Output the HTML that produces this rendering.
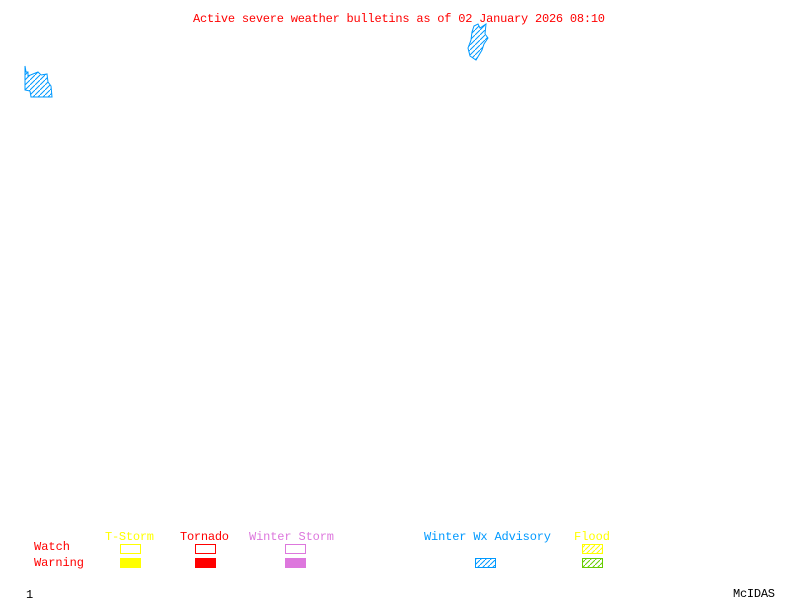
<!DOCTYPE html>
<html><head><style>body{margin:0;background:#fff}svg{display:block}text{font-family:"Liberation Mono",monospace;font-size:12px}</style></head><body>
<svg width="800" height="600" xmlns="http://www.w3.org/2000/svg">
<defs>
<pattern id="hb" width="5" height="5" patternUnits="userSpaceOnUse"><path d="M0,5 L5,0" stroke="#0099ff" stroke-width="1"/></pattern>
<pattern id="hy" width="5" height="5" patternUnits="userSpaceOnUse"><path d="M0,5 L5,0" stroke="#ffff00" stroke-width="1"/></pattern>
<pattern id="hg" width="5" height="5" patternUnits="userSpaceOnUse"><path d="M0,5 L5,0" stroke="#66cc00" stroke-width="1"/></pattern>
</defs>
<text x="193" y="22" fill="#ff0000" textLength="412">Active severe weather bulletins as of 02 January 2026 08:10</text>
<path d="M25,66 L26,72 L28,72 L28,76 L38,72 L41,75 L47,74 L48,82 L51,86 L52,97 L31,97 L30,91 L25,90 Z" fill="url(#hb)" stroke="#0099ff" stroke-width="1"/>
<path d="M474,26 L478,24 L480,28 L486,24 L485,34 L488,38 L484,44 L482,50 L476,60 L470,56 L468,48 L471,40 L472,32 Z" fill="url(#hb)" stroke="#0099ff" stroke-width="1"/>
<text x="105" y="540" fill="#ffff00" textLength="49">T-Storm</text>
<text x="180" y="540" fill="#ff0000" textLength="49">Tornado</text>
<text x="249" y="540" fill="#dd77dd" textLength="85">Winter Storm</text>
<text x="424" y="540" fill="#0099ff" textLength="127">Winter Wx Advisory</text>
<text x="574" y="540" fill="#ffff00" textLength="36">Flood</text>
<text x="34" y="550" fill="#ff0000" textLength="36">Watch</text>
<text x="34" y="566" fill="#ff0000" textLength="50">Warning</text>
<rect x="120.5" y="544.5" width="20" height="9" fill="none" stroke="#ffff00"/>
<rect x="120" y="558" width="21" height="10" fill="#ffff00"/>
<rect x="195.5" y="544.5" width="20" height="9" fill="none" stroke="#ff0000"/>
<rect x="195" y="558" width="21" height="10" fill="#ff0000"/>
<rect x="285.5" y="544.5" width="20" height="9" fill="none" stroke="#dd77dd"/>
<rect x="285" y="558" width="21" height="10" fill="#dd77dd"/>
<rect x="475.5" y="558.5" width="20" height="9" fill="url(#hb)" stroke="#0099ff"/>
<rect x="582.5" y="544.5" width="20" height="9" fill="url(#hy)" stroke="#ffff00"/>
<rect x="582.5" y="558.5" width="20" height="9" fill="url(#hg)" stroke="#66cc00"/>
<text x="26" y="598" fill="#000">1</text>
<text x="733" y="597" fill="#000" textLength="42">McIDAS</text>
</svg>
</body></html>
